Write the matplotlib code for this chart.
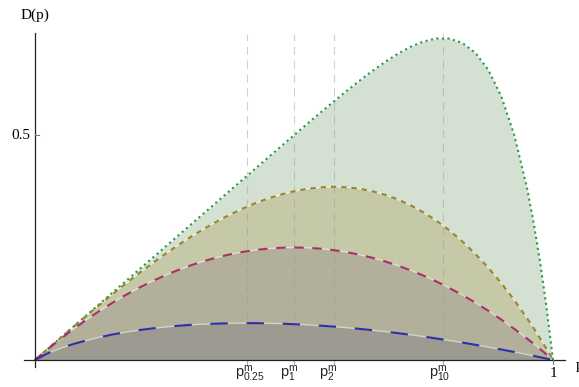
import numpy as np
import matplotlib.pyplot as plt
import matplotlib.transforms as mtransforms

plt.rcParams['lines.scale_dashes'] = False
plt.rcParams['mathtext.default'] = 'regular'

# sampled p values and D(p) for each exponent
p = [0, 0.025, 0.05, 0.075, 0.1, 0.125, 0.15, 0.175, 0.2, 0.225, 0.25, 0.275,
     0.3, 0.325, 0.35, 0.375, 0.4, 0.425, 0.45, 0.475, 0.5, 0.525, 0.55, 0.575,
     0.6, 0.625, 0.65, 0.675, 0.7, 0.725, 0.75, 0.775, 0.8, 0.825, 0.85, 0.875,
     0.9, 0.925, 0.95, 0.9625, 0.975, 0.9875, 1]

d_025 = [0, 0.0151, 0.0264, 0.0358, 0.0438, 0.0507, 0.0567, 0.0618, 0.0663, 0.0700,
         0.0732, 0.0759, 0.0780, 0.0796, 0.0808, 0.0816, 0.0819, 0.0819, 0.0814,
         0.0807, 0.0796, 0.0781, 0.0764, 0.0743, 0.0719, 0.0693, 0.0664, 0.0632,
         0.0597, 0.0560, 0.0521, 0.0478, 0.0434, 0.0387, 0.0338, 0.0287, 0.0234,
         0.0179, 0.0121, 0.0092, 0.0062, 0.0031, 0]

d_1 = [0, 0.0244, 0.0475, 0.0694, 0.09, 0.1094, 0.1275, 0.1444, 0.16, 0.1744,
       0.1875, 0.1994, 0.21, 0.2194, 0.2275, 0.2344, 0.24, 0.2444, 0.2475, 0.2494,
       0.25, 0.2494, 0.2475, 0.2444, 0.24, 0.2344, 0.2275, 0.2194, 0.21, 0.1994,
       0.1875, 0.1744, 0.16, 0.1444, 0.1275, 0.1094, 0.09, 0.0694, 0.0475, 0.0361,
       0.0244, 0.0123, 0]

d_2 = [0, 0.0250, 0.0499, 0.0746, 0.0990, 0.1230, 0.1466, 0.1696, 0.1920, 0.2136,
       0.2344, 0.2542, 0.2730, 0.2907, 0.3071, 0.3223, 0.3360, 0.3482, 0.3589,
       0.3678, 0.3750, 0.3803, 0.3836, 0.3849, 0.3840, 0.3809, 0.3754, 0.3675,
       0.3570, 0.3439, 0.3281, 0.3095, 0.2880, 0.2635, 0.2359, 0.2051, 0.1710,
       0.1336, 0.0926, 0.0708, 0.0481, 0.0245, 0]

d_10 = [0, 0.025, 0.05, 0.075, 0.1, 0.125, 0.15, 0.175, 0.2, 0.225, 0.25, 0.275,
        0.3, 0.325, 0.35, 0.375, 0.4, 0.4249, 0.4498, 0.4747, 0.4995, 0.5242,
        0.5486, 0.5727, 0.5964, 0.6193, 0.6412, 0.6617, 0.6802, 0.6959, 0.7078,
        0.7144, 0.7141, 0.7045, 0.6827, 0.6448, 0.5862, 0.5008, 0.3812, 0.3057,
        0.2181, 0.1167, 0]

# location of each maximum
p_max = [0.4096, 0.5, 0.5774, 0.7868]
p_max_labels = [r'$p^{m}_{0.25}$', r'$p^{m}_{1}$', r'$p^{m}_{2}$', r'$p^{m}_{10}$']

fig = plt.figure(figsize=(5.79, 3.87), dpi=100)
ax = fig.add_axes([0, 0, 1, 1])
ax.set_xlim(-35 / 518, 544 / 518)
ax.set_ylim(-27 / 450, 360 / 450)
ax.axis('off')

# curves drawn biggest first so the smaller fills sit on top
series = [
    (d_10, '#d4e0d2', '#2e9a4a', (0, (1.6, 2.4))),
    (d_2, '#c6c9a7', '#9a8530', (0, (3.8, 3.6))),
    (d_1, '#b2b09a', '#a8306a', (0, (6.8, 6.2))),
    (d_025, '#9d9a91', '#2f2fa5', (0, (12.5, 13.5))),
]
for d, fc, lc, ls in series:
    ax.fill_between(p, 0, d, color=fc, lw=0, zorder=1)
    ax.plot(p, d, color='white', alpha=0.45, lw=1.0, zorder=3)
    ax.plot(p, d, color=lc, lw=1.5, ls=ls, zorder=4)

# dashed guides at the maxima
for xm in p_max:
    ax.plot([xm, xm], [0, 0.724], color='#999999', alpha=0.45, lw=0.8,
            ls=(0, (6, 4)), zorder=2)
    ax.plot([xm, xm], [0, -0.009], color='#aaaaaa', lw=0.8, zorder=5)

# axes
ax.plot([-11 / 518, 530 / 518], [0, 0], color='#222222', lw=0.9, zorder=6)
ax.plot([0, 0], [-7 / 450, 327 / 450], color='#222222', lw=0.9, zorder=6)
ax.plot([0, 0.007], [0.5, 0.5], color='#777777', lw=0.8, zorder=6)
ax.plot([1, 1], [0, -0.009], color='#777777', lw=0.8, zorder=6)

serif = 'Liberation Serif'
ax.text(0, 0.765, 'D(p)', family=serif, fontsize=11, ha='center', va='center')
ax.text(-0.0097, 0.5, '0.5', family=serif, fontsize=11, ha='right', va='center')
ax.text(1, -0.016, '1', family=serif, fontsize=11, ha='center', va='top')
ax.text(1.0445, -0.012, 'p', family=serif, fontsize=11, ha='left', va='center')

offsets = [3, -4.5, -6, -3]
for xm, lab, off in zip(p_max, p_max_labels, offsets):
    tr = ax.transData + mtransforms.ScaledTranslation(off / 100, 0, fig.dpi_scale_trans)
    ax.text(xm, -0.010, lab, fontsize=10.5, family='Liberation Sans',
            ha='center', va='top', transform=tr, color='#222222')

fig.savefig('out.png', dpi=100)
